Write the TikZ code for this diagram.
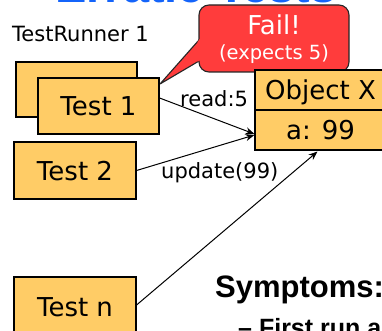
\documentclass[tikz,border=0pt]{standalone}
\usepackage{fontspec}
\setmainfont{DejaVu Sans}
\newfontfamily\headfont{Liberation Sans}
\usetikzlibrary{arrows.meta,calc}
\definecolor{cardfill}{RGB}{255,204,102}
\definecolor{alarm}{RGB}{255,60,60}
\definecolor{slideblue}{RGB}{20,100,250}

\begin{document}
\begin{tikzpicture}[x=1pt,y=-1pt,
  card/.style={draw=black, line width=1.1pt, fill=cardfill, inner sep=0pt,
    font=\fontsize{26}{30}\selectfont, text height=19pt, text depth=0pt},
  msgtext/.style={inner sep=0pt, font=\fontsize{21}{25}\selectfont},
  link/.style={draw, line width=1pt, -{Stealth[length=9pt,width=7pt]}},
  callout/.style={fill=alarm, draw=black!85, line width=1.1pt, line join=round},
]
\useasboundingbox (0,0) rectangle (382,331);
\clip (0,0) rectangle (382,331);

% slide title, mostly above the visible area
\node[anchor=base west, inner sep=0pt, text=slideblue,
  font=\headfont\bfseries\fontsize{47}{50}\selectfont] (title) at (55,3) {Erratic Tests};

\node[msgtext, anchor=base west] (runner) at (12,42) {TestRunner 1};

% speech bubble pointing at the first test: tail, body, then the seam hidden
\coordinate (tip) at (160,84);
\path[callout] (tip) -- (205,33.2) -- (205,57.5) -- cycle;
\path[callout, rounded corners=10pt] (199,5) rectangle (349,72);
\begin{scope}
  \clip (197.6,0) rectangle (201,90);
  \fill[alarm] (tip) -- (205,33.2) -- (205,57.5) -- cycle;
\end{scope}
\node[inner sep=0pt, text=white, font=\fontsize{26}{30}\selectfont, anchor=base]
  (fail) at (274,35) {Fail!};
\node[inner sep=0pt, text=white, font=\fontsize{19.5}{23}\selectfont, anchor=base]
  (expect) at (274,60) {(expects 5)};

% tests
\node[card, minimum width=121pt, minimum height=55pt] (back1) at (76.5,89.5) {};
\node[card, minimum width=121pt, minimum height=56pt] (test1) at (98.5,106) {Test 1};
\node[card, minimum width=122pt, minimum height=57pt] (test2) at (75,170.5) {Test 2};
\node[card, minimum width=122pt, minimum height=59pt] (testn) at (75,306.5) {Test n};

% shared object
\node[card, minimum width=131pt, minimum height=40pt] (objx) at (320.5,90) {Object X};
\node[card, minimum width=131pt, minimum height=40pt] (obja) at (320.5,130) {a: 99};

\coordinate (hit) at ($(obja.west)+(0,4)$);
\draw[link] ($(test1.east)+(0,-8)$) -- (hit);
\draw[link] (test2.east) -- ($(obja.west)+(0,5)$);
\draw[link] ($(testn.east)+(0,-1.5)$) -- ($(obja.south)+(-3,1)$);

\node[msgtext, anchor=base west] (read) at (180,107) {read:5};
\node[msgtext, anchor=base west] (update) at (161,178) {update(99)};

% bullet text
\node[anchor=base west, inner sep=0pt,
  font=\headfont\bfseries\fontsize{31}{34}\selectfont] (symptoms) at (215,297) {Symptoms:};
\node[anchor=base west, inner sep=0pt,
  font=\headfont\bfseries\fontsize{25}{28}\selectfont] (first) at (238,336) {– First run a};
\end{tikzpicture}
\end{document}
